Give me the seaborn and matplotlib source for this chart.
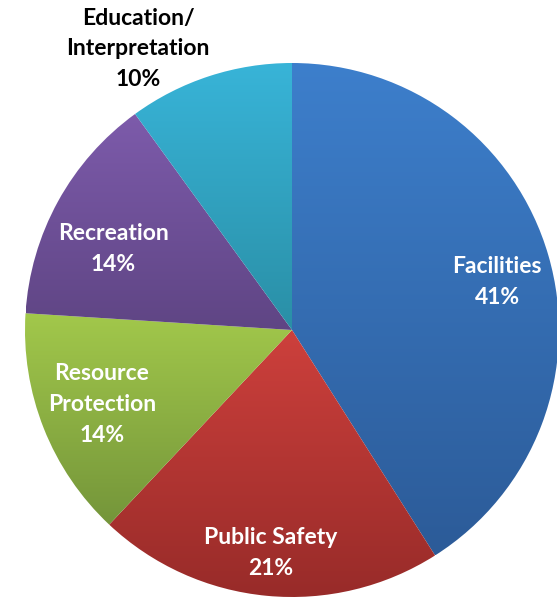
import numpy as np
import matplotlib
matplotlib.use("Agg")
import matplotlib.pyplot as plt
import matplotlib.colors as mcolors
import seaborn as sns

# Budget share by program area
categories = ["Facilities", "Public Safety", "Resource\nProtection", "Recreation", "Education/\nInterpretation"]
shares = [41, 21, 14, 14, 10]

# Gradient colours (top of slice -> bottom of slice)
top_colors = ["#3d7fcc", "#cd403c", "#a2c84b", "#7d5bab", "#38b4d8"]
bottom_colors = ["#2c5b98", "#982b29", "#74953a", "#5f4584", "#2a8fa6"]

# Label placement: radial distance (fraction of radius) and angular nudge (deg)
label_radius = [0.79, 0.84, 0.765, 0.735, 1.2]
label_nudge = [-3, 0, -0.3, 4.5, 10.7]
label_color = ["white", "white", "white", "white", "black"]

sns.set_theme(style="white")
plt.rcParams["font.family"] = ["Lato", "DejaVu Sans"]

W, H, DPI = 557, 597, 100
R = 267.0
fig = plt.figure(figsize=(W / DPI, H / DPI), dpi=DPI)
ax = fig.add_axes([0, 0, 1, 1])

palette = sns.color_palette(top_colors)
wedges, _ = ax.pie(shares, colors=palette, startangle=90, counterclock=False,
                   radius=R, center=(0, 0), frame=True,
                   wedgeprops=dict(linewidth=0))
ax.set_xlim(-292, W - 292)
ax.set_ylim(-(H - 330), 330)
ax.set_aspect("equal")
ax.axis("off")

for w, c_top, c_bot in zip(wedges, top_colors, bottom_colors):
    ext = w.get_path().get_extents(w.get_transform() - ax.transData)
    x0, y0, x1, y1 = ext.x0, ext.y0, ext.x1, ext.y1
    cmap = mcolors.LinearSegmentedColormap.from_list("g", [c_bot, c_top])
    grad = np.linspace(0, 1, 256)[:, None]
    im = ax.imshow(grad, cmap=cmap, origin="lower", aspect="auto",
                   extent=(x0, x1, y0, y1), interpolation="bicubic", zorder=2)
    im.set_clip_path(w)
    w.set_facecolor("none")

for w, name, val, rr, nd, col in zip(wedges, categories, shares, label_radius, label_nudge, label_color):
    mid = np.deg2rad((w.theta1 + w.theta2) / 2 + nd)
    x, y = rr * R * np.cos(mid), rr * R * np.sin(mid)
    ax.text(x, y, f"{name}\n{val}%", ha="center", va="center", color=col,
            fontsize=16.5, fontweight="bold", linespacing=1.58, zorder=5)

fig.savefig("out.png", dpi=DPI)
